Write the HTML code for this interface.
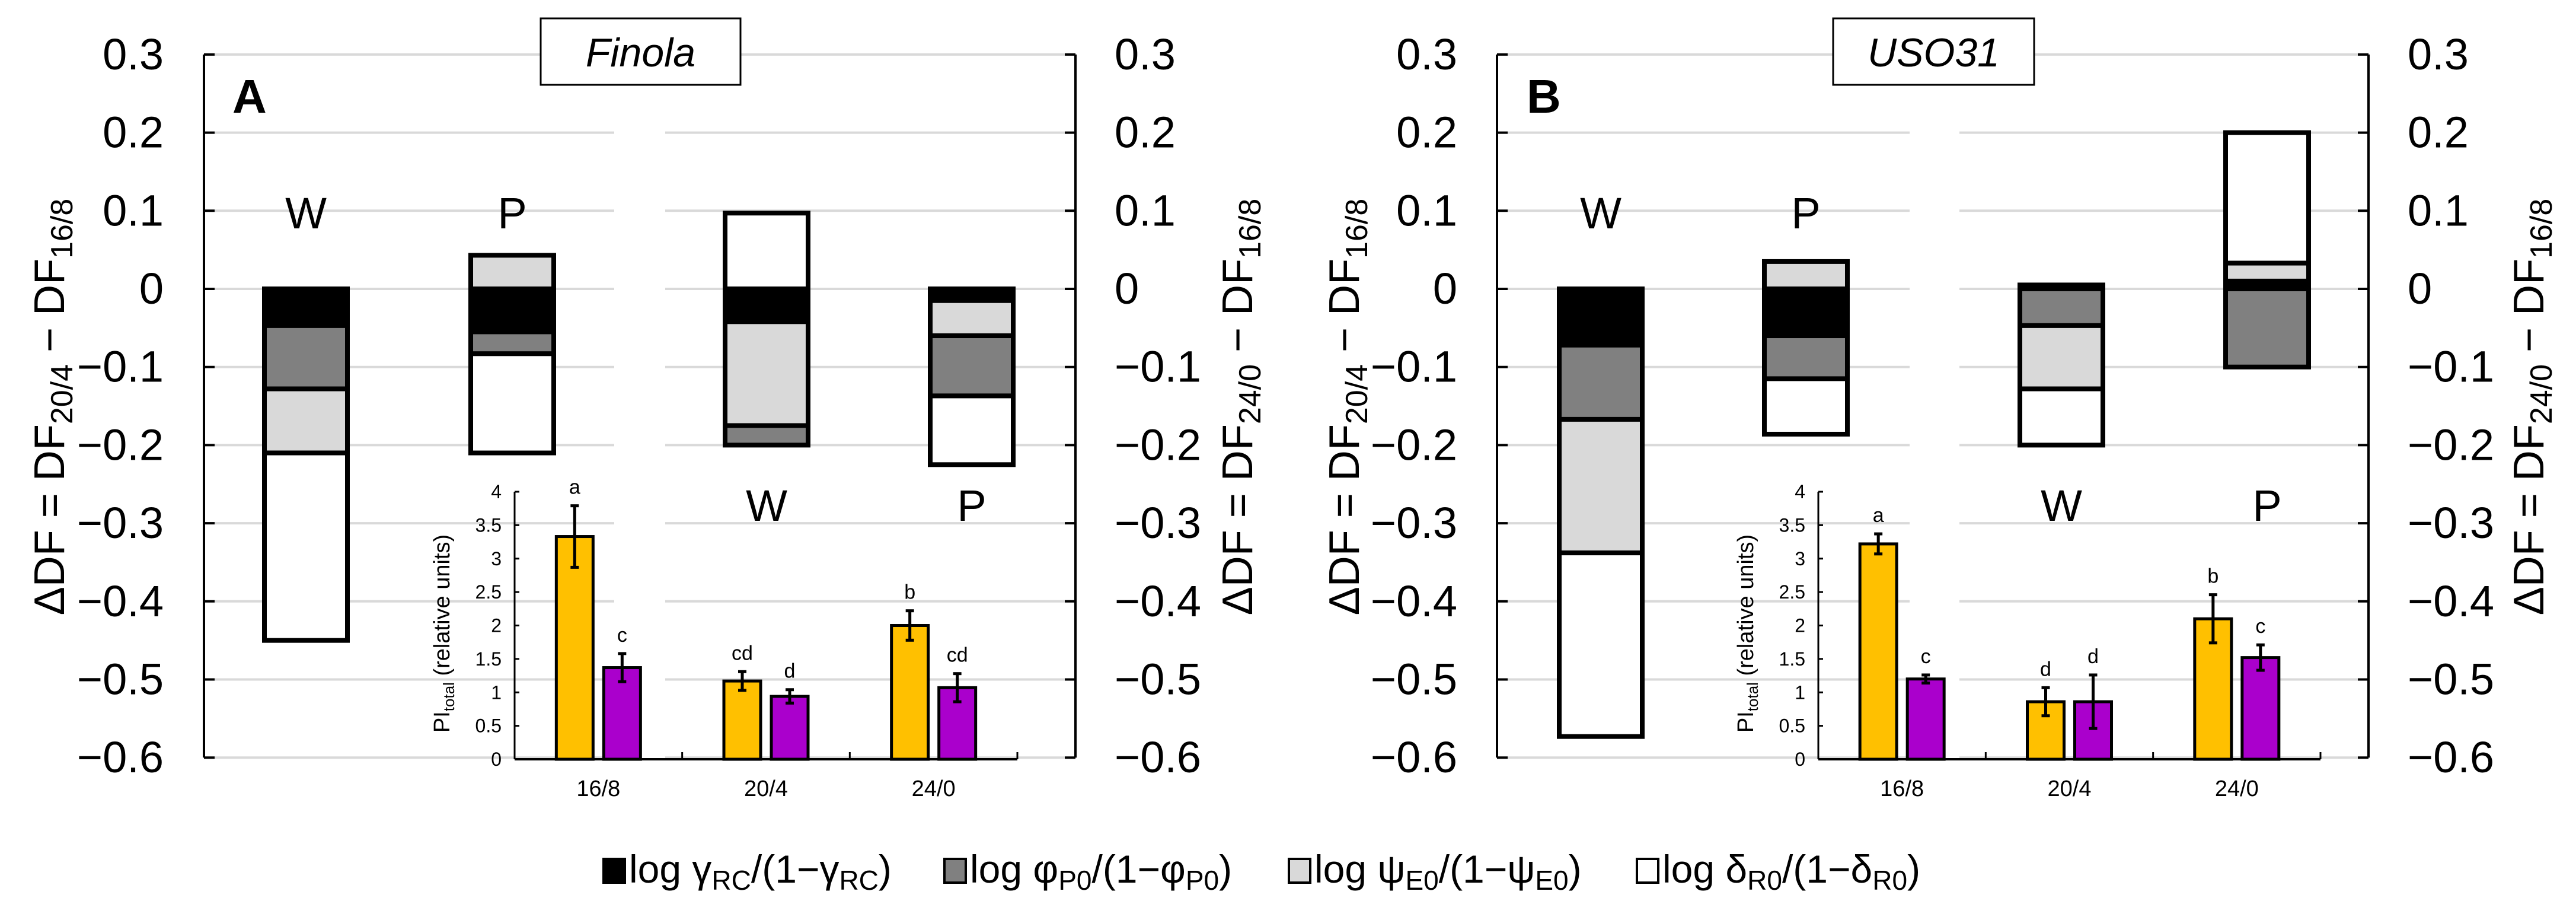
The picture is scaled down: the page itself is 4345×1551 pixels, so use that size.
<!DOCTYPE html>
<html><head><meta charset="utf-8"><style>
html,body{margin:0;padding:0;background:#fff;}
svg{display:block;font-family:"Liberation Sans",sans-serif;}
</style></head>
<body>
<svg id="chart" width="4345" height="1551" viewBox="0 0 4345 1551" xmlns="http://www.w3.org/2000/svg"></svg>
<script>
// ---- data ----
const yTicks = [0.3, 0.2, 0.1, 0, -0.1, -0.2, -0.3, -0.4, -0.5, -0.6];
const yTickLabels = ["0.3","0.2","0.1","0","\u22120.1","\u22120.2","\u22120.3","\u22120.4","\u22120.5","\u22120.6"];
const componentNames = ["gamma","phi","psi","delta"];
const componentColors = {gamma:"#000000", phi:"#808080", psi:"#d9d9d9", delta:"#ffffff"};
// Each bar: sequence of [component, value] stacked from zero outward
const barsA_W1 = [["gamma",-0.047],["phi",-0.081],["psi",-0.082],["delta",-0.240]];
const barsA_P1 = [["psi",0.043],["gamma",-0.055],["phi",-0.028],["delta",-0.127]];
const barsA_W2 = [["delta",0.097],["gamma",-0.042],["psi",-0.133],["phi",-0.025]];
const barsA_P2 = [["gamma",-0.015],["psi",-0.045],["phi",-0.077],["delta",-0.088]];
const barsB_W1 = [["gamma",-0.072],["phi",-0.095],["psi",-0.171],["delta",-0.235]];
const barsB_P1 = [["psi",0.035],["gamma",-0.060],["phi",-0.055],["delta",-0.071]];
const barsB_W2 = [["gamma",0.005],["phi",-0.047],["psi",-0.081],["delta",-0.072]];
const barsB_P2 = [["gamma",0.010],["psi",0.023],["delta",0.167],["phi",-0.100]];
const insetCategories = ["16/8","20/4","24/0"];
const insetTicks = [0,0.5,1,1.5,2,2.5,3,3.5,4];
const insetTickLabels = ["0","0.5","1","1.5","2","2.5","3","3.5","4"];
const insetA_W = [3.33, 1.17, 2.00];
const insetA_Werr = [0.46, 0.14, 0.22];
const insetA_P = [1.37, 0.94, 1.07];
const insetA_Perr = [0.21, 0.10, 0.21];
const insetA_Wlet = ["a","cd","b"];
const insetA_Plet = ["c","d","cd"];
const insetB_W = [3.22, 0.86, 2.10];
const insetB_Werr = [0.15, 0.21, 0.36];
const insetB_P = [1.20, 0.86, 1.52];
const insetB_Perr = [0.06, 0.40, 0.19];
const insetB_Wlet = ["a","d","b"];
const insetB_Plet = ["c","d","c"];

const NS = "http://www.w3.org/2000/svg";
const svg = document.getElementById('chart');
function el(tag, attrs, parent){
  const e = document.createElementNS(NS, tag);
  for (const k in attrs) e.setAttribute(k, attrs[k]);
  (parent||svg).appendChild(e);
  return e;
}
const Y0 = 487, YS = 1317;
function yv(v){ return Y0 - v*YS; }

const panels = [
  {id:"a", letter:"A", title:"Finola", axL:344, axR:1814, gapL:1036, gapR:1122,
   bars:[[barsA_W1,516],[barsA_P1,864],[barsA_W2,1293],[barsA_P2,1639]],
   lblL:276, lblR:1880, titL:108, titR:2112, boxX:912, boxW:337, letX:392,
   inset:{x0:868, x1:1716, W:insetA_W, We:insetA_Werr, P:insetA_P, Pe:insetA_Perr, Wl:insetA_Wlet, Pl:insetA_Plet}},
  {id:"b", letter:"B", title:"USO31", axL:2525, axR:3995, gapL:3221, gapR:3305,
   bars:[[barsB_W1,2700],[barsB_P1,3046],[barsB_W2,3477],[barsB_P2,3824]],
   lblL:2458, lblR:4061, titL:2292, titR:4290, boxX:3092, boxW:339, letX:2575,
   inset:{x0:3067, x1:3914, W:insetB_W, We:insetB_Werr, P:insetB_P, Pe:insetB_Perr, Wl:insetB_Wlet, Pl:insetB_Plet}}
];

panels.forEach(p=>{
  const g = el('g',{});
  
  
  // gridlines
  yTicks.forEach((t,i)=>{
    const y = yv(t);
    const gl = el('line',{x1:p.axL, x2:p.gapL, y1:y, y2:y, stroke:'#d9d9d9','stroke-width':4}, g);
    
    
    const gr = el('line',{x1:p.gapR, x2:p.axR, y1:y, y2:y, stroke:'#d9d9d9','stroke-width':4}, g);
    
    
    el('line',{x1:p.axL, x2:p.axL+18, y1:y, y2:y, stroke:'#000','stroke-width':4}, g);
    el('line',{x1:p.axR-18, x2:p.axR, y1:y, y2:y, stroke:'#000','stroke-width':4}, g);
    const tl = el('text',{x:p.lblL, y:y+25, 'font-size':74, 'text-anchor':'end'}, g);
    tl.textContent = yTickLabels[i];
    
    
    const tr = el('text',{x:p.lblR, y:y+25, 'font-size':74, 'text-anchor':'start'}, g);
    tr.textContent = yTickLabels[i];
    
    
  });
  el('line',{x1:p.axL,x2:p.axL,y1:yv(0.3),y2:yv(-0.6),stroke:'#000','stroke-width':4},g);
  el('line',{x1:p.axR,x2:p.axR,y1:yv(0.3),y2:yv(-0.6),stroke:'#000','stroke-width':4},g);
  // title box
  const bx = el('rect',{x:p.boxX,y:31,width:p.boxW,height:112,fill:'#fff',stroke:'#000','stroke-width':3},g);
  
  
  const bt = el('text',{x:p.boxX+p.boxW/2,y:112,'font-size':68,'font-style':'italic','text-anchor':'middle'},g);
  bt.textContent = p.title;
  
  
  const pl = el('text',{x:p.letX,y:190,'font-size':80,'font-weight':'bold'},g);
  pl.textContent = p.letter;
  
  
  // axis titles
  [[p.titL,'20/4','left-axis-title'],[p.titR,'24/0','right-axis-title']].forEach(a=>{
    const t = el('text',{transform:`translate(${a[0]},686) rotate(-90)`,'font-size':72,'text-anchor':'middle'},g);
    
    
    const s1 = el('tspan',{},t); s1.textContent='\u0394DF = DF';
    const s2 = el('tspan',{'font-size':52,dy:14},t); s2.textContent=a[1];
    const s3 = el('tspan',{dy:-14},t); s3.textContent=' \u2212 DF';
    const s4 = el('tspan',{'font-size':52,dy:14},t); s4.textContent='16/8';
  });
  // W/P labels
  [['W',p.bars[0][1],385],['P',p.bars[1][1],385],['W',p.bars[2][1],878],['P',p.bars[3][1],878]].forEach(l=>{
    const t = el('text',{x:l[1],y:l[2],'font-size':74,'text-anchor':'middle'},g);
    t.textContent=l[0];
    
    
  });
  // stacked bars
  p.bars.forEach((b,bi)=>{
    const cx=b[1], w=140;
    let pos=0, neg=0;
    b[0].forEach(seg=>{
      const v=seg[1];
      let a,c;
      if(v>=0){a=pos; c=pos+v; pos=c;} else {a=neg; c=neg+v; neg=c;}
      const top=yv(Math.max(a,c)), bot=yv(Math.min(a,c));
      const r = el('rect',{x:cx-w/2,y:top,width:w,height:Math.max(0,bot-top),fill:componentColors[seg[0]],stroke:'#000','stroke-width':8},g);
      
      
    });
  });
  // inset
  const ins = p.inset;
  const iy0=1280, iys=451/4;
  function iy(v){return iy0 - v*iys;}
  const cw=(ins.x1-ins.x0)/3;
  el('line',{x1:ins.x0,x2:ins.x0,y1:iy(4),y2:iy0,stroke:'#000','stroke-width':3},g);
  el('line',{x1:ins.x0,x2:ins.x1,y1:iy0,y2:iy0,stroke:'#000','stroke-width':4},g);
  insetTicks.forEach((t,i)=>{
    el('line',{x1:ins.x0,x2:ins.x0+8,y1:iy(t),y2:iy(t),stroke:'#000','stroke-width':3},g);
    const tl=el('text',{x:ins.x0-22,y:iy(t)+11,'font-size':32,'text-anchor':'end'},g);
    tl.textContent=insetTickLabels[i];
    
    
  });
  for(let k=1;k<=3;k++) el('line',{x1:ins.x0+cw*k,x2:ins.x0+cw*k,y1:iy0-12,y2:iy0,stroke:'#000','stroke-width':3},g);
  const yt=el('text',{transform:`translate(${ins.x0-110},1068) rotate(-90)`,'font-size':38,'text-anchor':'middle'},g);
  
  
  const y1s=el('tspan',{},yt); y1s.textContent='PI';
  const y2s=el('tspan',{'font-size':26,dy:8},yt); y2s.textContent='total';
  const y3s=el('tspan',{dy:-8},yt); y3s.textContent=' (relative units)';
  insetCategories.forEach((c,i)=>{
    const cc=ins.x0+cw*(i+0.5);
    const cl=el('text',{x:cc,y:1342,'font-size':38,'text-anchor':'middle'},g);
    cl.textContent=c;
    
    
    [[ins.W,ins.We,ins.Wl,-40,'#ffc000','inset-bar-w'],[ins.P,ins.Pe,ins.Pl,40,'#aa00cc','inset-bar-p']].forEach(s=>{
      const v=s[0][i], e=s[1][i], bx=cc+s[3];
      const r=el('rect',{x:bx-31,y:iy(v),width:62,height:iy0-iy(v),fill:s[4],stroke:'#000','stroke-width':5},g);
      
      
      el('line',{x1:bx,x2:bx,y1:iy(v+e),y2:iy(v-e),stroke:'#000','stroke-width':5},g);
      el('line',{x1:bx-7,x2:bx+7,y1:iy(v+e),y2:iy(v+e),stroke:'#000','stroke-width':5},g);
      el('line',{x1:bx-7,x2:bx+7,y1:iy(v-e),y2:iy(v-e),stroke:'#000','stroke-width':5},g);
      const lt=el('text',{x:bx,y:iy(v+e)-20,'font-size':34,'text-anchor':'middle'},g);
      lt.textContent=s[2][i];
      
      
    });
  });
});

// legend
const legendItems = [
  ["gamma","\u03B3","RC",1015],
  ["phi","\u03C6","P0",1590],
  ["psi","\u03C8","E0",2171],
  ["delta","\u03B4","R0",2758]
];
legendItems.forEach(li=>{
  const g = el('g',{});
  
  
  el('rect',{x:li[3]+3,y:1448,width:36,height:40,fill:componentColors[li[0]],stroke:'#000','stroke-width':4},g);
  const t=el('text',{x:li[3]+46,y:1488,'font-size':66},g);
  const a=el('tspan',{},t); a.textContent='log '+li[1];
  const b=el('tspan',{'font-size':46,dy:12},t); b.textContent=li[2];
  const c=el('tspan',{dy:-12},t); c.textContent='/(1\u2212'+li[1];
  const d=el('tspan',{'font-size':46,dy:12},t); d.textContent=li[2];
  const e=el('tspan',{dy:-12},t); e.textContent=')';
});
</script>
</body></html>
